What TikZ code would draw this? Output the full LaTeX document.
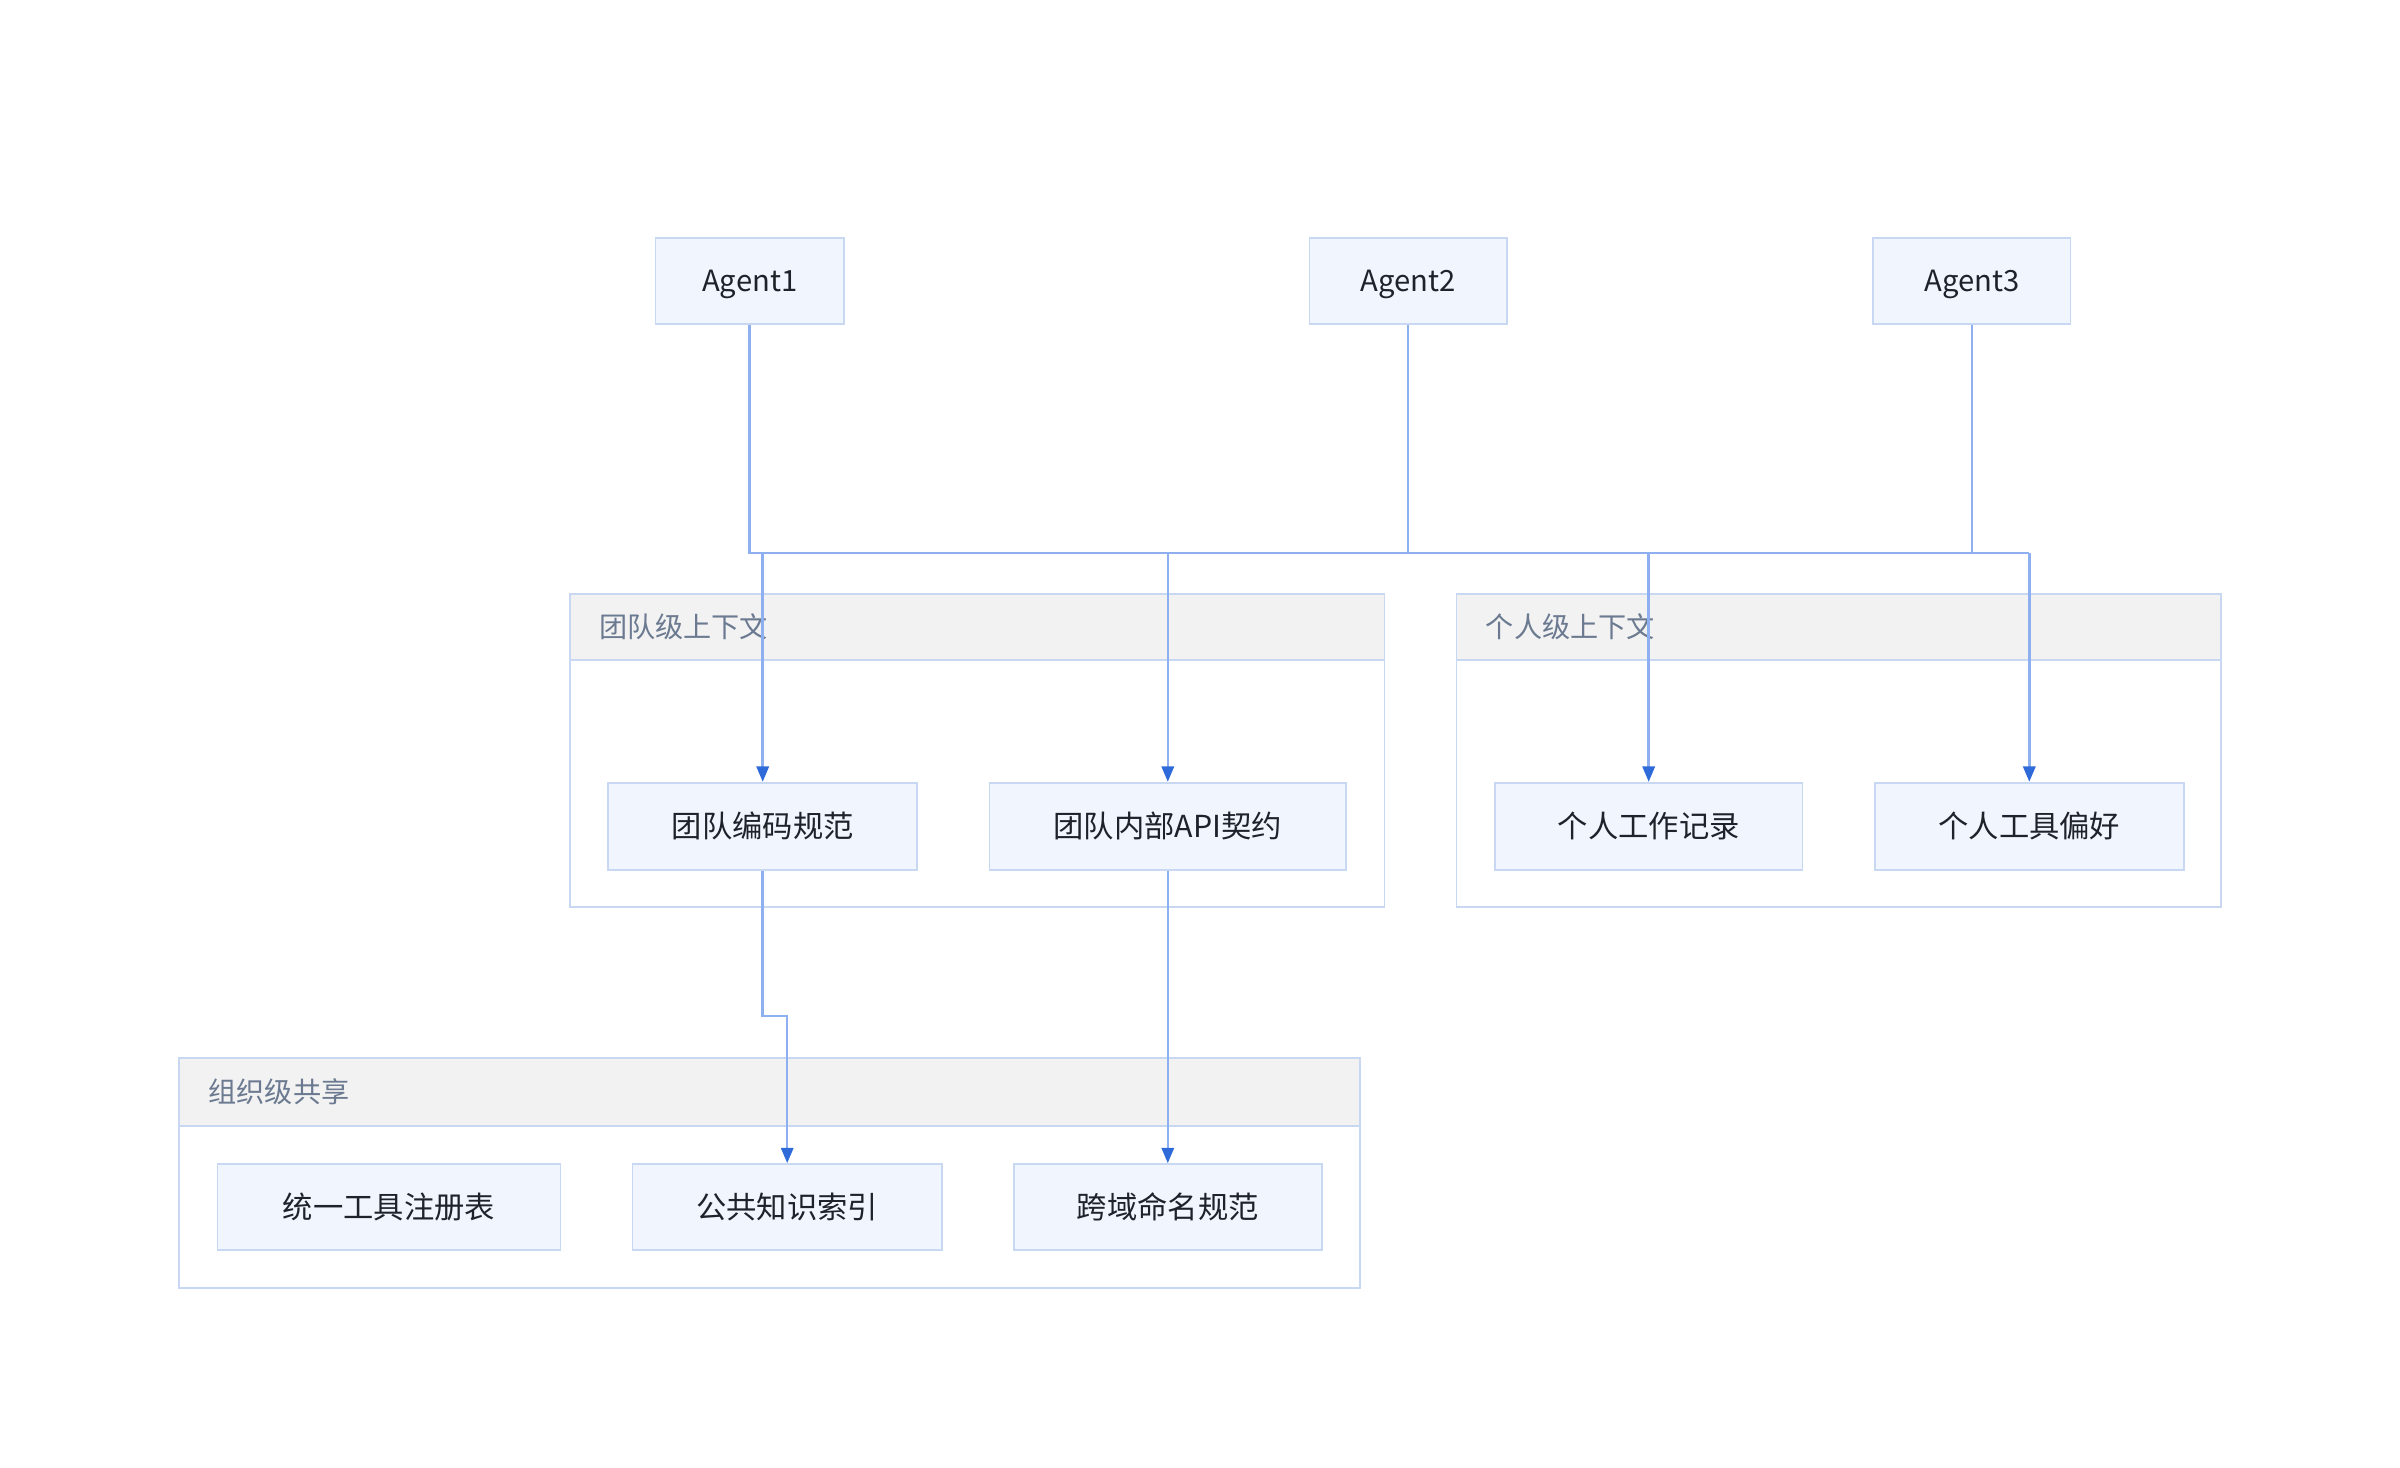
\documentclass[tikz,border=0pt]{standalone}
\usepackage{fontspec}
\setmainfont{Noto Sans CJK SC}
\usetikzlibrary{arrows.meta}
\definecolor{boxfill}{HTML}{F0F5FE}
\definecolor{boxline}{HTML}{C8D8F3}
\definecolor{hdrfill}{HTML}{F2F2F2}
\definecolor{hdrtext}{HTML}{6B7A90}
\definecolor{edgecol}{HTML}{8EB0F0}
\definecolor{tipcol}{HTML}{2F6AD9}
\definecolor{inkcol}{HTML}{1F2329}
\begin{document}
\begin{tikzpicture}[x=0.9955pt,y=-0.9955pt,
 item/.style={draw=boxline, fill=boxfill, line width=1.1pt, minimum height=56.7pt, inner sep=0pt, font=\fontsize{19.7}{22}\selectfont, text=inkcol},
 agent/.style={item, minimum height=55.7pt, font=\fontsize{19}{22}\selectfont, text depth=0pt},
 grp/.style={draw=boxline, line width=1.1pt},
 hdr/.style={fill=hdrfill, draw=boxline, line width=1.1pt},
 hdrlabel/.style={anchor=west, font=\fontsize{18.3}{21}\selectfont, text=hdrtext, inner sep=0pt},
 conn/.style={draw=edgecol, line width=1.6pt},
 arr/.style={conn, -{Triangle[length=10pt,width=8pt,color=tipcol]}}
]
\useasboundingbox (0,0) rectangle (1567.05,958.3);
% groups
\draw[grp] (372,388) rectangle (904,592);
\draw[hdr] (372,388) rectangle (904,431);
\node[hdrlabel] (gteam) at (391,409) {团队级上下文};
\draw[grp] (951,388) rectangle (1450,592);
\draw[hdr] (951,388) rectangle (1450,431);
\node[hdrlabel] (gpers) at (970,409) {个人级上下文};
\draw[grp] (117,691) rectangle (888,841);
\draw[hdr] (117,691) rectangle (888,735);
\node[hdrlabel] (gorg) at (136,713) {组织级共享};
% nodes
\node[agent, minimum width=122.5pt] (a1) at (489.5,183.5) {Agent1};
\node[agent, minimum width=128.4pt] (a2) at (919.5,183.5) {Agent2};
\node[agent, minimum width=128.4pt] (a3) at (1287.5,183.5) {Agent3};
\node[item, minimum width=201pt] (t1) at (498,539.5) {团队编码规范};
\node[item, minimum width=232pt] (t2) at (762.5,539.5) {团队内部API契约};
\node[item, minimum width=200pt] (p1) at (1076.5,539.5) {个人工作记录};
\node[item, minimum width=201pt] (p2) at (1325,539.5) {个人工具偏好};
\node[item, minimum width=223pt, minimum height=55.7pt] (o1) at (254,788) {统一工具注册表};
\node[item, minimum width=201pt, minimum height=55.7pt] (o2) at (514,788) {公共知识索引};
\node[item, minimum width=200pt, minimum height=55.7pt] (o3) at (762.5,788) {跨域命名规范};
% connectors
\coordinate (bl) at (489.5,361);
\coordinate (br) at (1325,361);
\draw[conn] (a1.south) -- (bl) -- (br);
\draw[conn] (a2.south) -- (a2.south |- bl);
\draw[conn] (a3.south) -- (a3.south |- bl);
\draw[arr] (t1.north |- bl) -- (t1.north);
\draw[arr] (t2.north |- bl) -- (t2.north);
\draw[arr] (p1.north |- bl) -- (p1.north);
\draw[arr] (p2.north |- bl) -- (p2.north);
\draw[arr] (t1.south) -- ++(0,95) -| (o2.north);
\draw[arr] (t2.south) -- (o3.north);
\end{tikzpicture}
\end{document}
